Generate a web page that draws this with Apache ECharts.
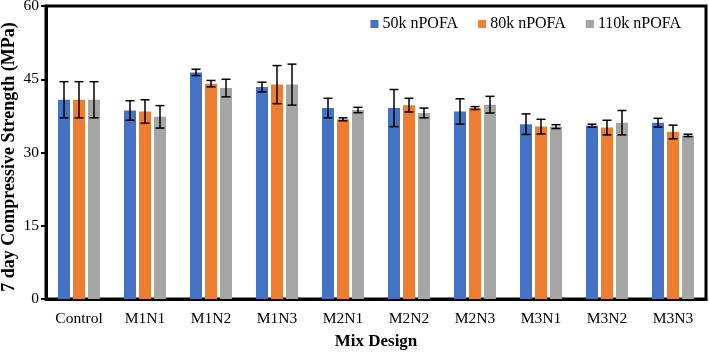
<!DOCTYPE html>
<html>
<head>
<meta charset="utf-8"/>
<title>7 day Compressive Strength</title>
<style type="text/css">body,html{width:100%;height:100%;margin:0;background:#fff}#chart{width:709px;height:352px}</style>
<script src="https://cdn.jsdelivr.net/npm/echarts@6/dist/echarts.min.js"></script>
</head>
<body>
<div id="chart"></div>
<script>
	// 数据
	var categories = ["Control","M1N1","M1N2","M1N3","M2N1","M2N2","M2N3","M3N1","M3N2","M3N3"];
	var seriesNames = ["50k nPOFA","80k nPOFA","110k nPOFA"];
	var colors = ["#4472C4","#ED7D31","#A5A5A5"];
	var yTicks = [0,15,30,45,60];
	var s50 = [40.8,38.6,46.4,43.4,39.1,39.1,38.4,35.8,35.5,36.1];
	var s80 = [40.8,38.4,44.1,43.9,36.8,39.7,39.1,35.3,35.1,34.2];
	var s110 = [40.8,37.3,43.2,43.9,38.7,38.1,39.8,35.3,36.1,33.5];
	var e50 = [3.7,2.0,0.65,1.0,2.0,3.8,2.6,2.1,0.3,0.9];
	var e80 = [3.7,2.4,0.65,3.9,0.3,1.4,0.3,1.5,1.5,1.4];
	var e110 = [3.7,2.3,1.8,4.2,0.55,1.0,1.7,0.4,2.5,0.25];

	var values = [s50,s80,s110];
	var errors = [e50,e80,e110];
	var barWidth = 12;
	var barGap = 0.25;
	var font = "Liberation Serif";

	var myChart = echarts.init(document.getElementById("chart"));
	var series = [];
	for (var i = 0; i < values.length; i++) {
		series.push({
			name: seriesNames[i],
			type: "bar",
			data: values[i],
			barWidth: barWidth,
			barGap: (barGap*100)+"%",
			itemStyle: {color: colors[i]},
			z: 2
		});
	}
	// 误差线
	for (var j = 0; j < values.length; j++) {
		(function(idx){
			var errData = [];
			for (var k = 0; k < categories.length; k++) {
				errData.push([k, values[idx][k]-errors[idx][k], values[idx][k]+errors[idx][k]]);
			}
			series.push({
				type: "custom",
				name: seriesNames[idx]+" err",
				data: errData,
				z: 5,
				silent: true,
				renderItem: function(params, api){
					var off = (idx-1)*barWidth*(1+barGap);
					var lo = api.coord([api.value(0), api.value(1)]);
					var hi = api.coord([api.value(0), api.value(2)]);
					var x = lo[0]+off;
					var hw = 4.5;
					var st = {stroke:"#000", lineWidth:1.5};
					return {type:"group", children:[
						{type:"line", shape:{x1:x,y1:lo[1],x2:x,y2:hi[1]}, style:st},
						{type:"line", shape:{x1:x-hw,y1:lo[1],x2:x+hw,y2:lo[1]}, style:st},
						{type:"line", shape:{x1:x-hw,y1:hi[1],x2:x+hw,y2:hi[1]}, style:st}
					]};
				}
			});
		})(j);
	}

	var option = {
		animation: false,
		textStyle: {fontFamily: font},
		grid: {left:46, right:3, top:6, bottom:53, outerBoundsMode:"none", containLabel:false, show:true, borderColor:"#000", borderWidth:3, backgroundColor:"transparent"},
		legend: {
			data: seriesNames,
			right: 23, top: 11,
			icon: "rect", itemWidth: 8, itemHeight: 8, itemGap: 20,
			textStyle: {fontFamily: font, fontSize: 16, color: "#000", padding:[0,0,0,-1]}
		},
		xAxis: {
			type: "category",
			data: categories,
			name: "Mix Design",
			nameLocation: "middle",
			nameGap: 34,
			nameMoveOverlap: false,
			nameTextStyle: {fontFamily: font, fontSize: 17, fontWeight: "bold", color: "#000"},
			axisLine: {lineStyle: {color:"#000", width:3}},
			axisTick: {show:false},
			axisLabel: {fontFamily: font, fontSize: 15.5, color: "#000", margin: 12}
		},
		yAxis: {
			type: "value",
			min: yTicks[0], max: yTicks[yTicks.length-1], interval: 15,
			name: "7 day Compressive Strength (MPa)",
			nameLocation: "middle",
			nameGap: 28,
			nameMoveOverlap: false,
			nameTextStyle: {fontFamily: font, fontSize: 18, fontWeight: "bold", color: "#000", padding:[0,9,0,0]},
			axisLine: {show:true, lineStyle: {color:"#000", width:3}},
			axisTick: {show:true, length:5, lineStyle:{color:"#000", width:2}},
			splitLine: {show:false},
			axisLabel: {fontFamily: font, fontSize: 15.5, color: "#000", margin: 7}
		},
		series: series
	};
	myChart.setOption(option);
</script>
</body>
</html>
